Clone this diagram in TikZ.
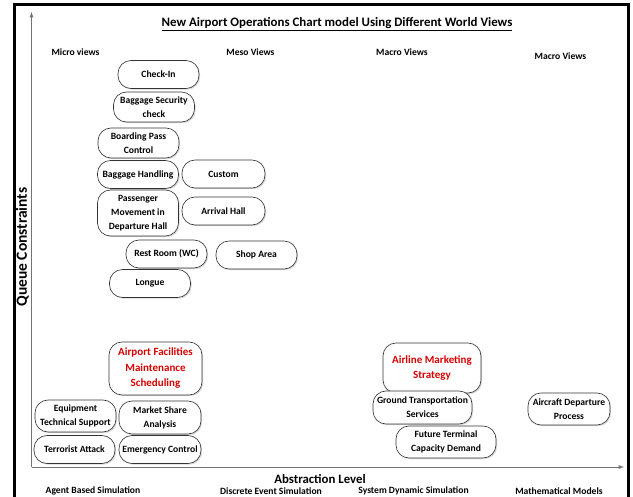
\documentclass[tikz,border=0pt]{standalone}
\usepackage{fontspec}
\setmainfont{Carlito}
\usetikzlibrary{shadows}

\begin{document}
\begin{tikzpicture}[x=1pt,y=-1pt,
    box/.style={draw=black!80, line width=0.65pt, fill=white, rounded corners=13pt,
      minimum width=81pt, minimum height=28pt, inner sep=1pt, align=center,
      font=\bfseries\fontsize{9.6}{14}\selectfont,
      drop shadow={opacity=0.3, shadow xshift=1.2pt, shadow yshift=-1.2pt}},
    hot/.style={box, text=red!85!black, font=\bfseries\fontsize{11}{15.5}\selectfont},
    lbl/.style={font=\bfseries\fontsize{9.6}{11}\selectfont},
    axis/.style={draw=black!55, line width=0.9pt, ->, >=latex}]
  \useasboundingbox (0,0) rectangle (633,497);
  \draw[line width=3.5pt] (14.5,497) |- (628.5,4.5) -- (628.5,497);

  % axes
  \coordinate (origin) at (31.5,467); \coordinate (ytop) at (31.5,12);
  \coordinate (xend) at (624,467);
  \draw[axis] (origin) -- (ytop);
  \draw[axis] (origin) -- (xend);
  \node[font=\bfseries\fontsize{15.5}{17}\selectfont, rotate=90] (qc) at (22.5,247) {Queue Constraints};
  \node[font=\bfseries\fontsize{12.8}{14}\selectfont] (al) at (320,479.5) {Abstraction Level};
  \node[font=\bfseries\fontsize{12.9}{14}\selectfont] (title) at (337,24)
    {\underline{New Airport Operations Chart model Using Different World Views}};

  % world views
  \node[lbl] (micro) at (75.5,52) {Micro views};
  \node[lbl] (meso) at (250.5,52) {Meso Views};
  \node[lbl] (macro) at (402,52) {Macro Views};
  \node[lbl] (macrob) at (560.5,56) {Macro Views};

  % simulation methods
  \node[lbl] (abs) at (93,490.5) {Agent Based Simulation};
  \node[lbl] (des) at (271,491.5) {Discrete Event Simulation};
  \node[lbl] (sds) at (413.5,491) {System Dynamic Simulation};
  \node[lbl] (mm) at (559,491) {Mathematical Models};

  % micro level
  \node[box] (checkin) at (158.5,74.5) {Check-In};
  \node[box, minimum height=30pt] (bagsec) at (154,107) {Baggage Security\\check};
  \node[box, minimum height=30pt] (boarding) at (138.5,143) {Boarding Pass\\Control};
  \node[box] (baghand) at (138,174.5) {Baggage Handling};
  \node[box, minimum height=46pt] (passmove) at (138,213) {Passenger\\Movement in\\Departure Hall};
  \node[box] (restroom) at (166.5,254) {Rest Room (WC)};
  \node[box] (longue) at (150,283.5) {Longue};
  \node[box, minimum width=83pt] (custom) at (223.5,174) {Custom};
  \node[box, minimum width=83pt] (arrival) at (223.5,211) {Arrival Hall};
  \node[box] (shop) at (256.5,255) {Shop Area};

  % lower part
  \node[hot, minimum width=93pt, minimum height=53pt] (maint) at (155.5,368.5) {Airport Facilities\\Maintenance\\Scheduling};
  \node[box, minimum height=32pt] (equip) at (75.5,416) {Equipment\\Technical Support};
  \node[box, minimum width=82pt, minimum height=33pt] (market) at (160,417.5) {Market Share\\Analysis};
  \node[box] (terror) at (74.5,449.5) {Terrorist Attack};
  \node[box, minimum width=82pt] (emerg) at (160,449.5) {Emergency Control};
  \node[hot, minimum width=98pt, minimum height=50pt] (marketing) at (432,368) {Airline Marketing\\Strategy};
  \node[box, minimum width=99pt, minimum height=33pt] (ground) at (422.5,407.5) {Ground Transportation\\Services};
  \node[box, minimum width=100pt, minimum height=32pt] (future) at (446,442) {Future Terminal\\Capacity Demand};
  \node[box, minimum width=82pt, minimum height=32pt] (aircraft) at (569,409) {Aircraft Departure\\Process};
\end{tikzpicture}
\end{document}
